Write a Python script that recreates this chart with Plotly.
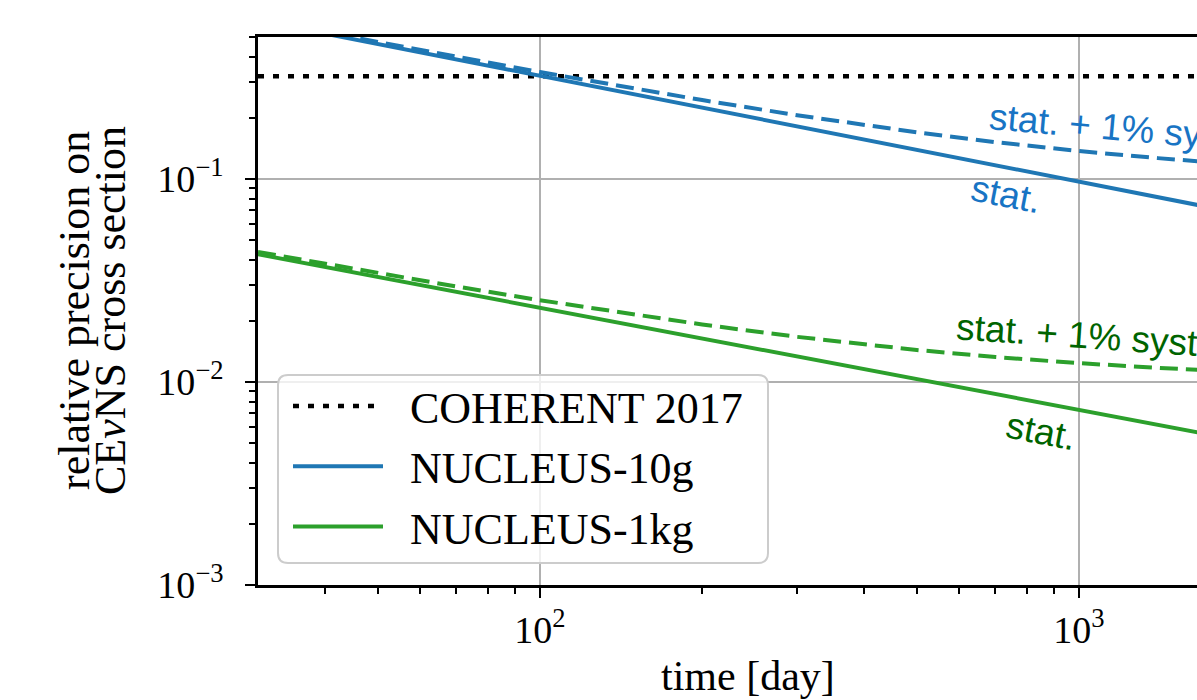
import plotly.graph_objects as go

# ---- data ----
days = [30, 40, 50, 70, 100, 150, 200, 300, 500, 700, 1000, 1400, 1700]

nucleus10g_stat = [0.603, 0.519, 0.462, 0.388, 0.322, 0.261, 0.2245, 0.1818,
                   0.1392, 0.1168, 0.097, 0.0814, 0.0735]
nucleus10g_syst = [0.611, 0.528, 0.472, 0.400, 0.336, 0.278, 0.2445, 0.206,
                   0.1696, 0.1518, 0.1372, 0.1266, 0.1217]

nucleus1kg_stat = [0.04253, 0.0368, 0.03288, 0.02777, 0.0232, 0.01892, 0.01637,
                   0.01335, 0.01032, 0.00872, 0.00729, 0.00615, 0.00558]
nucleus1kg_syst = [0.04369, 0.03814, 0.03437, 0.02952, 0.02527, 0.0214, 0.01918,
                   0.01668, 0.01437, 0.01327, 0.01238, 0.01174, 0.01145]

coherent_days = [30, 1700]
coherent_value = [0.32, 0.32]

x_tickvals = [100, 1000]
x_ticktext = ["10<sup>2</sup>", "10<sup>3</sup>"]
y_tickvals = [1e-3, 1e-2, 1e-1]
y_ticktext = ["10<sup>\u22123</sup>", "10<sup>\u22122</sup>", "10<sup>\u22121</sup>"]

x_minor = [40, 50, 60, 70, 80, 90, 200, 300, 400, 500, 600, 700, 800, 900]
y_minor = [m * d for d in (1e-3, 1e-2, 1e-1) for m in range(2, 10)]

BLUE = "#1f77b4"
GREEN = "#2ca02c"
BLUE_TXT = "#1874c4"
GREEN_TXT = "#006400"
SERIF = "Liberation Serif, Times New Roman, serif"
SANS = "Liberation Sans, Arial, sans-serif"

W, H = 1197, 700
# plot area in page pixels
PL, PT, PB, PR = 258, 37, 585, 1197
ML, MT, MB, MR = PL, PT, H - PB, W - PR
PW = PR - PL
PH = PB - PT


def px_x(px):
    return (px - PL) / PW


def px_y(py):
    return (PB - py) / PH


fig = go.Figure()

fig.add_trace(go.Scatter(x=coherent_days, y=coherent_value, mode="lines",
                         name="\u2002COHERENT 2017",
                         line=dict(color="black", width=4.5, dash="6px,9px")))
fig.add_trace(go.Scatter(x=days, y=nucleus10g_stat, mode="lines",
                         name="\u2002NUCLEUS-10g", line=dict(color=BLUE, width=4)))
fig.add_trace(go.Scatter(x=days, y=nucleus10g_syst, mode="lines",
                         showlegend=False,
                         line=dict(color=BLUE, width=4, dash="18px,8px")))
fig.add_trace(go.Scatter(x=days, y=nucleus1kg_stat, mode="lines",
                         name="\u2002NUCLEUS-1kg", line=dict(color=GREEN, width=4)))
fig.add_trace(go.Scatter(x=days, y=nucleus1kg_syst, mode="lines",
                         showlegend=False,
                         line=dict(color=GREEN, width=4, dash="18px,8px")))

annos = [
    dict(text="stat. + 1% syst.", x=2.8275, y=-0.745, xanchor="left", yanchor="middle",
         textangle=5, font=dict(family=SANS, size=37, color=BLUE_TXT)),
    dict(text="stat.", x=2.8646, y=-1.079, xanchor="center", yanchor="middle",
         textangle=11, font=dict(family=SANS, size=37, color=BLUE_TXT)),
    dict(text="stat. + 1% syst.", x=2.766, y=-1.773, xanchor="left", yanchor="middle",
         textangle=4, font=dict(family=SANS, size=37, color=GREEN_TXT)),
    dict(text="stat.", x=2.9295, y=-2.246, xanchor="center", yanchor="middle",
         textangle=11, font=dict(family=SANS, size=37, color=GREEN_TXT)),
]
for a in annos:
    fig.add_annotation(xref="x", yref="y", showarrow=False, **a)

# axis titles
fig.add_annotation(text="time [day]", xref="paper", yref="paper",
                   x=px_x(748), y=px_y(676), xanchor="center", yanchor="middle",
                   showarrow=False, font=dict(family=SERIF, size=42, color="black"))
fig.add_annotation(text="relative precision on", xref="paper", yref="paper",
                   x=px_x(74), y=px_y(311), xanchor="center", yanchor="middle",
                   textangle=-90, showarrow=False,
                   font=dict(family=SERIF, size=44, color="black"))
fig.add_annotation(text="CE<i>\u03bd</i>NS cross section", xref="paper", yref="paper",
                   x=px_x(110), y=px_y(311), xanchor="center", yanchor="middle",
                   textangle=-90, showarrow=False,
                   font=dict(family=SERIF, size=44, color="black"))

# rounded legend frame
bx0, by0, bx1, by1, r = px_x(278), px_y(375), px_x(768), px_y(563), 10
rx, ry = r / PW, r / PH
legend_path = (
    f"M {bx0 + rx},{by0} L {bx1 - rx},{by0} Q {bx1},{by0} {bx1},{by0 - ry} "
    f"L {bx1},{by1 + ry} Q {bx1},{by1} {bx1 - rx},{by1} "
    f"L {bx0 + rx},{by1} Q {bx0},{by1} {bx0},{by1 + ry} "
    f"L {bx0},{by0 - ry} Q {bx0},{by0} {bx0 + rx},{by0} Z"
)
fig.add_shape(type="path", path=legend_path, xref="paper", yref="paper",
              layer="above", fillcolor="rgba(255,255,255,0.8)",
              line=dict(color="#cccccc", width=2))

fig.update_layout(
    width=W, height=H,
    margin=dict(l=ML, r=MR, t=MT, b=MB, pad=0),
    paper_bgcolor="white", plot_bgcolor="white",
    font=dict(family=SERIF, size=38, color="black"),
    showlegend=True,
    legend=dict(x=px_x(288), y=px_y(371), xanchor="left", yanchor="top",
                bgcolor="rgba(0,0,0,0)", borderwidth=0,
                font=dict(family=SERIF, size=44, color="black"),
                itemwidth=90, tracegroupgap=0),
    xaxis=dict(type="log", range=[1.4771, 3.2189],
               tickmode="array", tickvals=x_tickvals, ticktext=x_ticktext,
               ticks="outside", ticklen=10, tickwidth=2, tickcolor="black",
               showline=True, linecolor="black", linewidth=2.5, mirror=True,
               showgrid=True, gridcolor="#b0b0b0", gridwidth=2,
               zeroline=False,
               tickfont=dict(family=SERIF, size=38, color="black"),
               minor=dict(tickmode="array", tickvals=x_minor, ticks="outside",
                          ticklen=6, tickwidth=1.5, tickcolor="black", showgrid=False)),
    yaxis=dict(type="log", range=[-3, -0.301],
               tickmode="array", tickvals=y_tickvals, ticktext=y_ticktext,
               ticks="outside", ticklen=10, tickwidth=2, tickcolor="black",
               ticklabelstandoff=14,
               showline=True, linecolor="black", linewidth=2.5, mirror=False,
               showgrid=True, gridcolor="#b0b0b0", gridwidth=2,
               zeroline=False,
               tickfont=dict(family=SERIF, size=38, color="black"),
               minor=dict(tickmode="array", tickvals=y_minor, ticks="outside",
                          ticklen=6, tickwidth=1.5, tickcolor="black", showgrid=False)),
)

fig.write_html(
    "out.html",
    config={"displayModeBar": False},
    post_script="document.body.style.margin='0';document.body.style.overflow='hidden';",
)
